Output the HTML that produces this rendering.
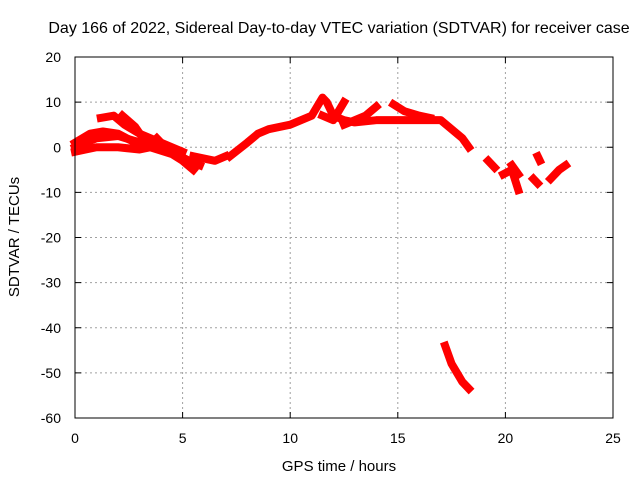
<!DOCTYPE html>
<html><head><meta charset="utf-8"><style>
body{margin:0;background:#fff;}
svg{display:block;font-family:"Liberation Sans",sans-serif;}
</style></head><body>
<svg id="c" width="640" height="480">
<text x="339" y="33" font-size="16" text-anchor="middle">Day 166 of 2022, Sidereal Day-to-day VTEC variation (SDTVAR) for receiver case</text>
<text x="339" y="471" font-size="15" text-anchor="middle">GPS time / hours</text>
<text transform="translate(19,237) rotate(-90)" font-size="15" text-anchor="middle">SDTVAR / TECUs</text>
<g id="grid"></g><g id="ticks"></g><g id="series"></g>
<rect x="75" y="57" width="538" height="361" fill="none" stroke="#000" stroke-width="1"/>
</svg>
<script>
const xTicks=[0,5,10,15,20,25];
const yTicks=[20,10,0,-10,-20,-30,-40,-50,-60];
const s1=[[0,0],[0.5,1],[1,2],[2,2.5],[2.7,1.5],[3.5,0.5],[4.5,-1],[5.3,-3],[5.8,-4]];
const s2=[[0,1],[0.7,3],[1.3,3.5],[2,3],[2.8,1],[3.5,0],[4.5,-1.5],[5,-3],[5.5,-5]];
const s3=[[0,-1],[0.5,-0.5],[1,0],[2,0],[3,-0.5],[3.5,0]];
const s4=[[1.2,6.5],[1.8,7],[2.3,5],[3,3],[3.5,2],[4,1],[5,-1]];
const s5=[[2.2,7],[2.8,4.5],[3.3,1]];
const s6=[[3.8,2],[4.2,0],[4.8,-2],[5.3,-3]];
const s7=[[5.5,-2],[6,-2.5],[6.5,-3],[7,-2]];
const s8=[[7.2,-2],[8,1],[8.5,3],[9,4],[10,5],[10.5,6],[11,7],[11.5,11],[11.7,10],[12,7],[12.5,6],[13,5.5],[14,6],[15,6],[16,6],[16.5,6],[17,6],[17.5,4],[18,2],[18.3,0]];
const s9=[[11.5,7],[12,6],[12.5,10]];
const s10=[[12.5,5],[13.5,7],[14,9]];
const s11=[[14.8,9.5],[15.3,8],[16,7],[16.5,6.5]];
const s12=[[19.2,-3],[19.5,-4.5]];
const s13=[[19.9,-6],[20.3,-5],[20.5,-8],[20.6,-9.5]];
const s14=[[20.3,-4],[20.6,-6]];
const s15=[[21.5,-2],[21.6,-3]];
const s16=[[21.3,-7],[21.5,-8]];
const s17=[[22.1,-7],[22.5,-5],[22.8,-4]];
const s18=[[17.2,-44],[17.5,-48],[18,-52],[18.3,-53.5]];
const allSeries=[s1,s2,s3,s4,s5,s6,s7,s8,s9,s10,s11,s12,s13,s14,s15,s16,s17,s18];
const NS="http://www.w3.org/2000/svg";
const X=h=>75+h*538/25, Y=v=>57+(20-v)*361/80;
const grid=document.getElementById('grid'),ticks=document.getElementById('ticks'),ser=document.getElementById('series');
function mk(tag,at,p){const e=document.createElementNS(NS,tag);for(const k in at)e.setAttribute(k,at[k]);p.appendChild(e);return e;}
xTicks.forEach(t=>{const x=X(t);
 if(t>0&&t<25){const g=mk('line',{x1:x,x2:x,y1:57,y2:418,stroke:'#a0a0a0','stroke-dasharray':'2,3'},grid);
 
 }
 mk('line',{x1:x,x2:x,y1:418,y2:412,stroke:'#000'},ticks);mk('line',{x1:x,x2:x,y1:57,y2:63,stroke:'#000'},ticks);
 const tx=mk('text',{x:x,y:443,'font-size':14,'text-anchor':'middle'},ticks);tx.textContent=t;
 
 });
yTicks.forEach(t=>{const y=Y(t);
 if(t>-60&&t<20){const g=mk('line',{x1:75,x2:613,y1:y,y2:y,stroke:'#a0a0a0','stroke-dasharray':'2,3'},grid);
 
 }
 mk('line',{x1:75,x2:81,y1:y,y2:y,stroke:'#000'},ticks);mk('line',{x1:613,x2:607,y1:y,y2:y,stroke:'#000'},ticks);
 const tx=mk('text',{x:61,y:y+5,'font-size':14,'text-anchor':'end'},ticks);tx.textContent=t;
 
 });
allSeries.forEach((s,i)=>{const p=mk('polyline',{points:s.map(d=>X(d[0])+','+Y(d[1])).join(' '),fill:'none',stroke:'#ff0000','stroke-width':8,'stroke-linejoin':'round','stroke-linecap':'square'},ser);
 
 });
</script>
</body></html>
